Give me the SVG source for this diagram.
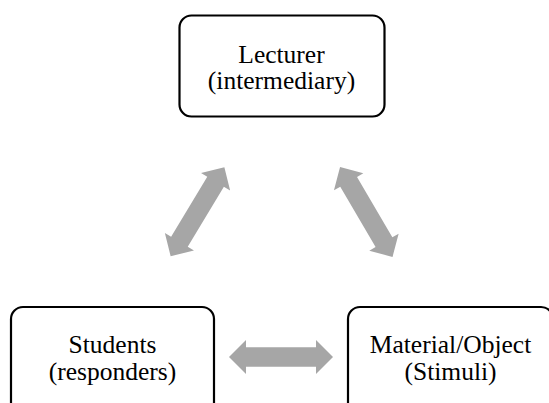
<svg xmlns="http://www.w3.org/2000/svg" width="549" height="403" viewBox="0 0 549 403">
<style>
.box{fill:#fff;stroke:#000;stroke-width:2.2}
.arr{fill:#A6A6A6}
</style>
<defs>
<polygon id="dbl" points="-52,0 -35,-17 -35,-9.7 35,-9.7 35,-17 52,0 35,17 35,9.7 -35,9.7 -35,17"/>
</defs>
<rect width="549" height="403" fill="#fff"/>
<g id="connectors">
<use href="#dbl" class="arr" transform="translate(281,357)"/>
<use href="#dbl" class="arr" transform="translate(197.5,211.7) rotate(-58.9)"/>
<use href="#dbl" class="arr" transform="translate(366.3,212) rotate(59.7)"/>
</g>
<g font-family="'Liberation Serif', 'Times New Roman', Tinos, 'DejaVu Serif', serif" font-size="25.5" text-anchor="middle" fill="#000">
<g id="lecturer">
<rect class="box" x="179.5" y="15.5" width="205" height="101" rx="12"/>
<text x="281.5" y="62.5">Lecturer</text>
<text x="281.5" y="89">(intermediary)</text>
</g>
<g id="students">
<rect class="box" x="11" y="307" width="203" height="110" rx="12"/>
<text x="112.5" y="352.5">Students</text>
<text x="112.5" y="379.5">(responders)</text>
</g>
<g id="material">
<rect class="box" x="348" y="307" width="205" height="110" rx="12"/>
<text x="450.5" y="352.5">Material/Object</text>
<text x="450.5" y="379.5">(Stimuli)</text>
</g>
</g>
</svg>
